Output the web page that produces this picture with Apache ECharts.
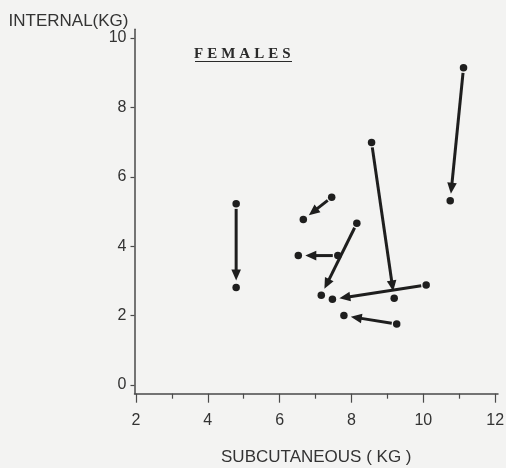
<!DOCTYPE html>
<html>
<head>
<meta charset="utf-8">
<script src="https://cdn.jsdelivr.net/npm/echarts@6/dist/echarts.min.js"></script>
<style>
  html, body { margin: 0; padding: 0; background: #f3f3f2; }
  #chart { width: 506px; height: 468px; }
</style>
</head>
<body>
<div id="chart"></div>
<script>
// Change in fat mass per subject: arrow from first to second measurement (kg)
const startX = [4.79, 7.45, 7.62, 8.15, 8.56, 10.08, 9.26, 11.12];
const startY = [5.22, 5.41, 3.73, 4.66, 6.99, 2.88, 1.76, 9.14];
const endX   = [4.79, 6.66, 6.52, 7.16, 9.19, 7.47, 7.79, 10.75];
const endY   = [2.81, 4.77, 3.73, 2.59, 2.50, 2.47, 2.00, 5.31];

const xMajorTicks = [2, 4, 6, 8, 10, 12];
const xMinorTicks = [3, 5, 7, 9, 11];
const yMajorTicks = [0, 2, 4, 6, 8, 10];

const panelTitle = 'FEMALES';
const xTitle = 'SUBCUTANEOUS ( KG )';
const yTitle = 'INTERNAL(KG)';

const ink = '#1e1e1e';
const axisInk = '#4a4a4a';
const labelFont = 'Liberation Sans, Arial, sans-serif';

const arrows = startX.map((x, i) => [x, startY[i], endX[i], endY[i]]);
const dots = startX.map((x, i) => [x, startY[i]])
  .concat(endX.map((x, i) => [x, endY[i]]));

// letters spaced out via rich-text padding
const spaced = panelTitle.split('').map(c => '{l|' + c + '}').join('');

const chart = echarts.init(document.getElementById('chart'), null, { renderer: 'canvas' });

chart.setOption({
  backgroundColor: '#f3f3f2',
  animation: false,
  grid: {
    left: 134.5, right: 8, top: 29.3, bottom: 74.3,
    containLabel: false, outerBoundsMode: 'none'
  },
  title: {
    text: spaced,
    left: 192,
    top: 47,
    padding: 0,
    textStyle: {
      rich: {
        l: {
          fontFamily: 'Liberation Serif, Times New Roman, serif',
          fontWeight: 'bold',
          fontSize: 15,
          color: '#2a2a2a',
          padding: [0, 2, 0, 2]
        }
      }
    }
  },
  graphic: [{
    type: 'line',
    shape: { x1: 195, y1: 61.5, x2: 292, y2: 61.5 },
    style: { stroke: '#2a2a2a', lineWidth: 1.2 }
  }],
  xAxis: [{
    type: 'value',
    min: 1.96,
    max: 12.08,
    name: xTitle,
    nameLocation: 'middle',
    nameGap: 55,
    nameTextStyle: { fontFamily: labelFont, fontSize: 17, color: '#333' },
    axisLine: { onZero: false, lineStyle: { color: axisInk, width: 1.5 } },
    axisTick: { show: true, inside: false, customValues: xMajorTicks, length: 9, lineStyle: { color: axisInk, width: 1.2 } },
    axisLabel: { customValues: xMajorTicks, margin: 19, fontFamily: labelFont, fontSize: 16, color: '#333' },
    splitLine: { show: false }
  }, {
    type: 'value',
    min: 1.96,
    max: 12.08,
    position: 'bottom',
    axisLine: { show: false, onZero: false },
    axisTick: { show: true, inside: false, customValues: xMinorTicks, length: 5, lineStyle: { color: axisInk, width: 1.2 } },
    axisLabel: { show: false },
    splitLine: { show: false }
  }],
  yAxis: {
    type: 'value',
    min: -0.25,
    max: 10.25,
    name: yTitle,
    nameLocation: 'end',
    nameGap: 5,
    nameTextStyle: {
      fontFamily: labelFont, fontSize: 17, color: '#333',
      align: 'right', verticalAlign: 'middle', padding: [0, 6, 0, 0]
    },
    axisLine: { show: true, onZero: false, lineStyle: { color: axisInk, width: 1.5 } },
    axisTick: { show: true, inside: false, customValues: yMajorTicks, length: 4, lineStyle: { color: axisInk, width: 1.2 } },
    axisLabel: { customValues: yMajorTicks, margin: 8, fontFamily: labelFont, fontSize: 16, color: '#333' },
    splitLine: { show: false }
  },
  series: [{
    type: 'custom',
    xAxisIndex: 0,
    data: arrows,
    encode: { x: [0, 2], y: [1, 3] },
    renderItem: function (params, api) {
      const p1 = api.coord([api.value(0), api.value(1)]);
      const p2 = api.coord([api.value(2), api.value(3)]);
      const dx = p2[0] - p1[0], dy = p2[1] - p1[1];
      const len = Math.sqrt(dx * dx + dy * dy);
      const ux = dx / len, uy = dy / len;
      const px = -uy, py = ux;
      const gapStart = 5, gapEnd = 7, headLen = 11, headHalf = 4.8;
      const s = [p1[0] + ux * gapStart, p1[1] + uy * gapStart];
      const tip = [p2[0] - ux * gapEnd, p2[1] - uy * gapEnd];
      const base = [tip[0] - ux * headLen, tip[1] - uy * headLen];
      return {
        type: 'group',
        children: [{
          type: 'line',
          shape: { x1: s[0], y1: s[1], x2: base[0] + ux * 2, y2: base[1] + uy * 2 },
          style: { stroke: ink, lineWidth: 3 }
        }, {
          type: 'polygon',
          shape: {
            points: [
              tip,
              [base[0] + px * headHalf, base[1] + py * headHalf],
              [base[0] - px * headHalf, base[1] - py * headHalf]
            ]
          },
          style: { fill: ink }
        }]
      };
    },
    z: 2
  }, {
    type: 'scatter',
    xAxisIndex: 0,
    data: dots,
    symbol: 'circle',
    symbolSize: 7.5,
    itemStyle: { color: ink, opacity: 1 },
    z: 3
  }]
});
</script>
</body>
</html>
